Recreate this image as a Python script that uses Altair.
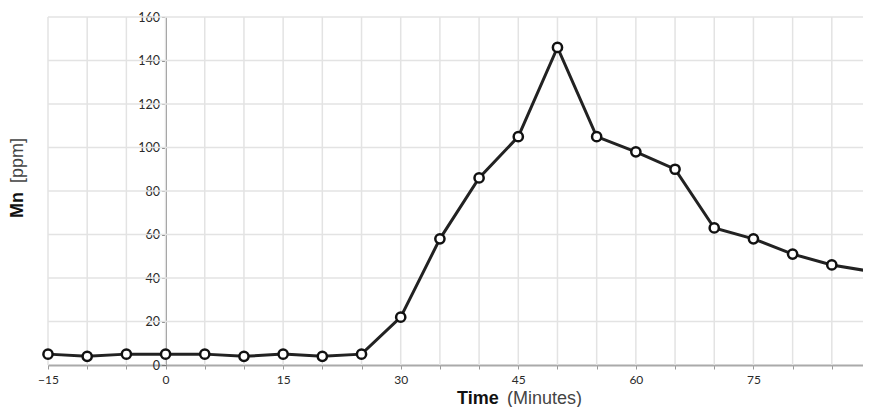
import altair as alt
import pandas as pd

# Data
minutes = [-15, -10, -5, 0, 5, 10, 15, 20, 25, 30, 35, 40, 45, 50, 55, 60, 65, 70, 75, 80, 85, 90]
mn_ppm = [5, 4, 5, 5, 5, 4, 5, 4, 5, 22, 58, 86, 105, 146, 105, 98, 90, 63, 58, 51, 46, 43]

x_grid = list(range(-15, 95, 5))
y_grid = [0, 20, 40, 60, 80, 100, 120, 140, 160]
x_labels = [-15, 0, 15, 30, 45, 60, 75, 90]

y_title_bold = "Mn"
y_title_rest = "[ppm]"
x_title_bold = "Time"
x_title_rest = "(Minutes)"

df = pd.DataFrame({"t": minutes, "v": mn_ppm})

W, H = 823, 348
xs = alt.Scale(domain=[-15, 90], nice=False, zero=False)
ys = alt.Scale(domain=[0, 160], nice=False)

LABEL_FONT = "Lato"
TITLE_FONT = "Liberation Sans"

x_axis = alt.Axis(
    values=x_grid,
    labelExpr="indexof(" + str(x_labels) + ", datum.value) >= 0 ? datum.label : ''",
    grid=False,
    domainColor="#aaaaaa",
    domainWidth=2,
    tickColor="#999999",
    tickSize=4,
    tickWidth=1,
    labelFont=LABEL_FONT,
    labelFontSize=12,
    labelColor="#2a2a2a",
    labelPadding=5,
    labelFlush=False,
    labelOverlap=False,
    title=None,
)
y_axis = alt.Axis(
    values=y_grid,
    grid=False,
    offset=-117.6,
    domainColor="#777777",
    domainWidth=1.5,
    tickColor="#777777",
    tickSize=4,
    tickWidth=1,
    labelFont=LABEL_FONT,
    labelFontSize=12.5,
    labelColor="#2a2a2a",
    labelPadding=2,
    labelFlush=False,
    title=None,
)

vgrid = alt.Chart(pd.DataFrame({"g": x_grid})).mark_rule(color="#e3e3e3", strokeWidth=1.5).encode(
    x=alt.X("g:Q", scale=xs, axis=x_axis), y=alt.value(0), y2=alt.value(H)
)
hgrid = alt.Chart(pd.DataFrame({"g": y_grid[1:]})).mark_rule(color="#e3e3e3", strokeWidth=1.5).encode(
    y=alt.Y("g:Q", scale=ys, axis=y_axis), x=alt.value(0), x2=alt.value(W)
)

line = alt.Chart(df).mark_line(color="#222222", strokeWidth=3).encode(
    x=alt.X("t:Q", scale=xs, axis=x_axis),
    y=alt.Y("v:Q", scale=ys, axis=y_axis),
)
pts = alt.Chart(df).mark_point(
    shape="circle", filled=True, fill="white", stroke="#111111", strokeWidth=2.5, size=85, opacity=1
).encode(x=alt.X("t:Q", scale=xs, axis=x_axis), y=alt.Y("v:Q", scale=ys, axis=y_axis))

def txt(s, x, y, bold, angle=0):
    return alt.Chart(alt.Data(values=[{"s": s}])).mark_text(
        font=TITLE_FONT, fontSize=18, fontWeight="bold" if bold else "normal",
        align="left", baseline="alphabetic" if angle == 0 else "middle",
        angle=angle, color="#111111" if bold else "#444444",
    ).encode(text="s:N", x=alt.value(x), y=alt.value(y))

t1 = txt(y_title_bold, -30, 201, True, 270)
t2 = txt(y_title_rest, -30, 166, False, 270)
t3 = txt(x_title_bold, 409, 387, True)
t4 = txt(x_title_rest, 459, 387, False)

chart = alt.layer(vgrid, hgrid, line, pts, t1, t2, t3, t4).properties(
    width=W, height=H,
    autosize=alt.AutoSizeParams(type="none"),
    padding={"left": 40, "top": 9, "right": -8, "bottom": 42},
).configure_view(stroke=None)

chart.save("out.html", embed_options={"renderer": "svg", "actions": False})
